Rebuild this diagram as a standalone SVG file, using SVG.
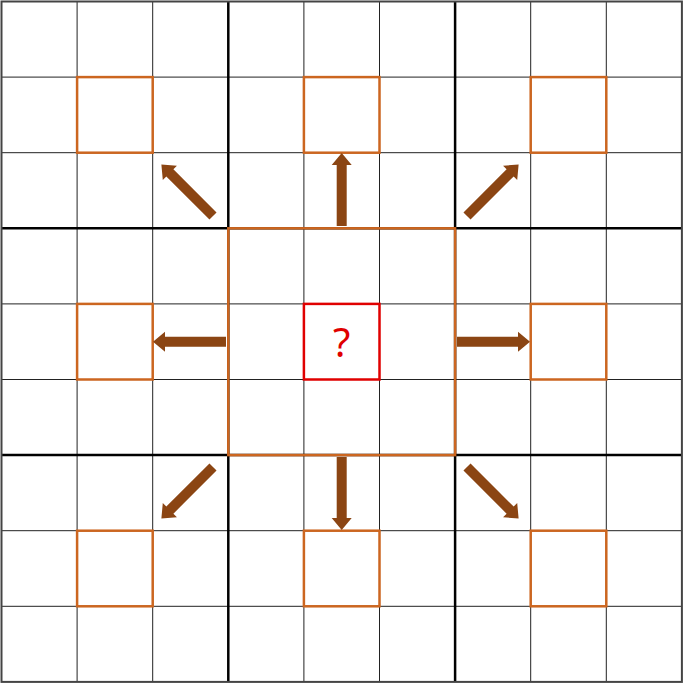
<svg xmlns="http://www.w3.org/2000/svg" width="685" height="684" viewBox="0 0 685 684">
<style>
.thin{stroke:#222;stroke-width:1;fill:none}
.thick{stroke:#000;stroke-width:2.5;fill:none}
.box{fill:none;stroke:#CC6620;stroke-width:2.5}
.q{fill:none;stroke:#E00000;stroke-width:2.5}
.arrow{fill:#8B4513}
.qt{font-family:"Noto Sans","Liberation Sans",Arial,sans-serif;font-size:40px;fill:#E00000;text-anchor:middle}
</style>
<defs>
<path id="arr" class="arrow" d="M0,-5 H61 V-10 L73,0 L61,10 V5 H0 Z"/>
</defs>
<rect width="685" height="684" fill="#fff"/>
<g id="grid">
<path class="thin" d="M77.1,1.5V681.9M152.7,1.5V681.9M303.9,1.5V681.9M379.5,1.5V681.9M530.7,1.5V681.9M606.3,1.5V681.9M1.5,77.1H681.9M1.5,152.7H681.9M1.5,303.9H681.9M1.5,379.5H681.9M1.5,530.7H681.9M1.5,606.3H681.9"/>
<path class="thick" d="M228.3,1.5V681.9M455.1,1.5V681.9M1.5,228.3H681.9M1.5,455.1H681.9"/>
<rect class="thick" x="1.5" y="1.5" width="680.4" height="680.4" style="stroke:#444;stroke-width:2"/>
</g>
<g id="boxes">
<rect id="b11" class="box" x="77.1" y="77.1" width="75.6" height="75.6"/>
<rect id="b14" class="box" x="303.9" y="77.1" width="75.6" height="75.6"/>
<rect id="b17" class="box" x="530.7" y="77.1" width="75.6" height="75.6"/>
<rect id="b41" class="box" x="77.1" y="303.9" width="75.6" height="75.6"/>
<rect id="b47" class="box" x="530.7" y="303.9" width="75.6" height="75.6"/>
<rect id="b71" class="box" x="77.1" y="530.7" width="75.6" height="75.6"/>
<rect id="b74" class="box" x="303.9" y="530.7" width="75.6" height="75.6"/>
<rect id="b77" class="box" x="530.7" y="530.7" width="75.6" height="75.6"/>
<rect id="center-block" class="box" x="228.3" y="228.3" width="226.8" height="226.8"/>
</g>
<g id="target">
<rect class="q" x="303.9" y="303.9" width="75.6" height="75.6"/>
<text class="qt" x="341.7" y="357">?</text>
</g>
<g id="connectors">
<use href="#arr" transform="translate(341.7,226) rotate(-90)"/>
<use href="#arr" transform="translate(341.7,457) rotate(90)"/>
<use href="#arr" transform="translate(226,341.7) rotate(180)"/>
<use href="#arr" transform="translate(457,341.7)"/>
<use href="#arr" transform="translate(213,216) rotate(-135)"/>
<use href="#arr" transform="translate(467,216) rotate(-45)"/>
<use href="#arr" transform="translate(467,467) rotate(45)"/>
<use href="#arr" transform="translate(213,467) rotate(135)"/>
</g>
</svg>
